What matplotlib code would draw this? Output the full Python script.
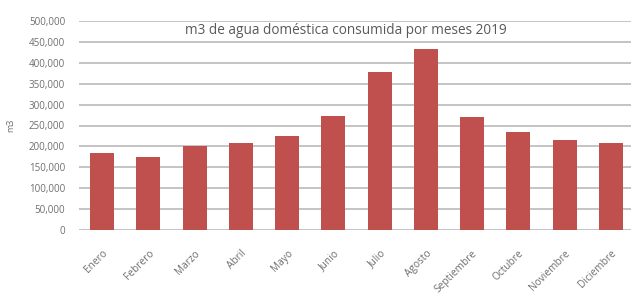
import matplotlib.pyplot as plt
from matplotlib.ticker import FuncFormatter

# m3 de agua domestica por mes, 2019
meses = ["Enero", "Febrero", "Marzo", "Abril", "Mayo", "Junio", "Julio",
         "Agosto", "Septiembre", "Octubre", "Noviembre", "Diciembre"]
consumo = [185000, 175000, 201000, 207000, 225000, 273000, 379000,
           432000, 270000, 234000, 215000, 207000]
yticks = list(range(0, 500001, 50000))

plt.rcParams["font.family"] = ["Open Sans", "DejaVu Sans"]
GRAY = "#6e6e6e"

fig = plt.figure(figsize=(6.31, 2.98), dpi=100)
ax = fig.add_axes([79 / 631, 68 / 298, 555 / 631, 209 / 298])

x = range(len(meses))
ax.bar(x, consumo, width=0.52, color="#c0504d", zorder=3)
ax.set_xlim(-0.5, len(meses) - 0.5)
ax.set_ylim(0, 500000)
ax.set_yticks(yticks)
ax.yaxis.set_major_formatter(FuncFormatter(lambda v, p: f"{int(v):,}"))
ax.grid(axis="y", color="#c4c4c4", linewidth=1.4, zorder=0)
for s in ax.spines.values():
    s.set_visible(False)
ax.tick_params(axis="both", length=0, colors=GRAY, labelsize=7)
ax.tick_params(axis="y", pad=10)
ax.set_xticks(list(x))
ax.set_xticklabels(meses, rotation=45, ha="right", rotation_mode="anchor",
                   fontsize=7.3)
ax.tick_params(axis="x", pad=13)
ax.set_ylabel("m3", color=GRAY, fontsize=6.5, labelpad=10)

fig.text(346 / 631, 1 - 30 / 298, "m3 de agua doméstica consumida por meses 2019",
         ha="center", va="center", fontsize=9.8, color="#595959")

fig.savefig("out.png", dpi=100)
